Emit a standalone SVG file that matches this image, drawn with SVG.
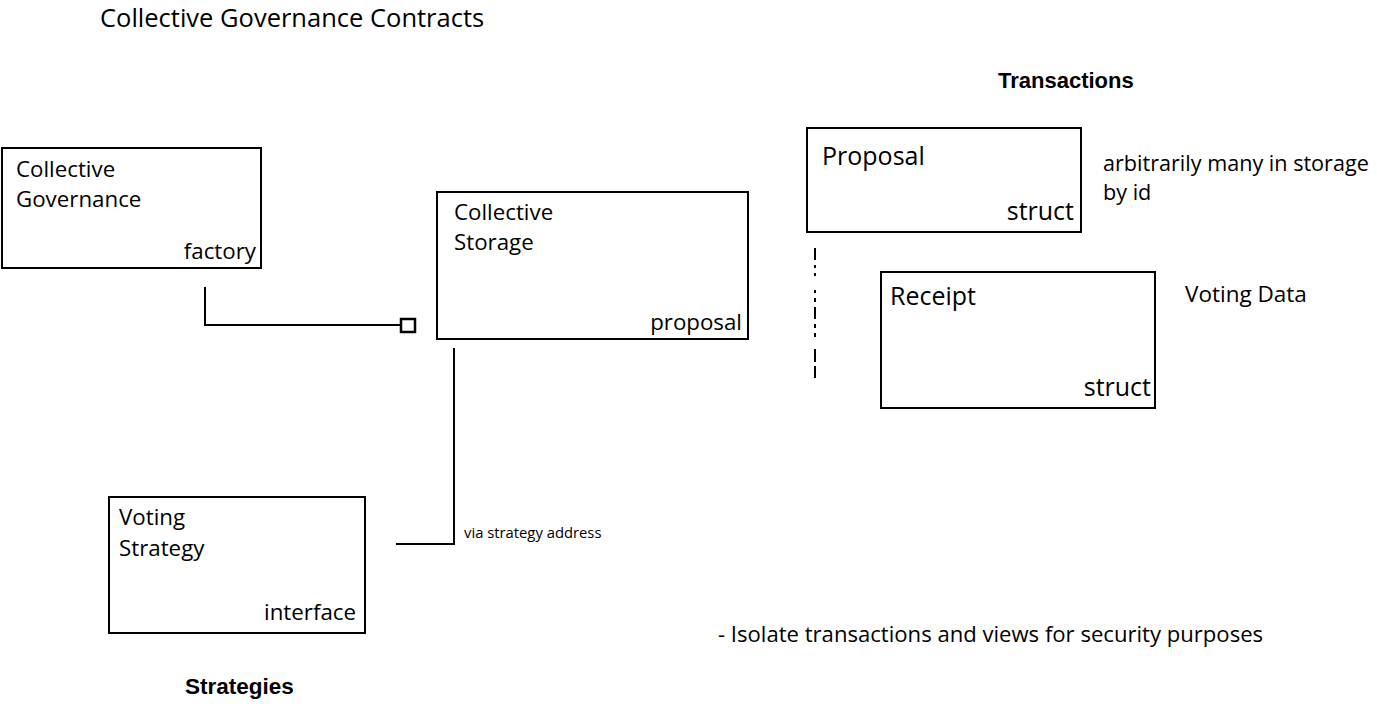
<svg xmlns="http://www.w3.org/2000/svg" width="1377" height="714" viewBox="0 0 1377 714">
<style>
.box{fill:#fff;stroke:#000;stroke-width:2}
.t{font-family:"Open Sans","Liberation Sans",sans-serif;fill:#000}
.n{font-size:22.3px}
.h{font-size:25px}
.s{font-size:25px}
.r{text-anchor:end}
.b{font-family:"Liberation Sans",sans-serif;font-weight:bold;font-size:22px}
.ln{fill:none;stroke:#000;stroke-width:2}
</style>
<rect width="1377" height="714" fill="#fff"/>
<text class="t" x="100" y="27" style="font-size:25.5px">Collective Governance Contracts</text>
<text class="b" x="998" y="88">Transactions</text>
<text class="b" x="185" y="694" style="font-size:22.5px">Strategies</text>
<g id="collective-governance">
<rect class="box" x="2" y="148" width="259" height="120"/>
<text class="t n" x="16" y="177">Collective</text>
<text class="t n" x="16" y="207">Governance</text>
<text class="t n r" x="256" y="259">factory</text>
</g>
<g id="collective-storage">
<rect class="box" x="437" y="192" width="311" height="147"/>
<text class="t n" x="454" y="220">Collective</text>
<text class="t n" x="454" y="250">Storage</text>
<text class="t n r" x="742" y="330">proposal</text>
</g>
<g id="proposal">
<rect class="box" x="807" y="128" width="274" height="104"/>
<text class="t h" x="822" y="165">Proposal</text>
<text class="t s r" x="1074" y="220">struct</text>
</g>
<g id="receipt">
<rect class="box" x="881" y="272" width="274" height="136"/>
<text class="t h" x="890" y="305">Receipt</text>
<text class="t s r" x="1151" y="396">struct</text>
</g>
<g id="voting-strategy">
<rect class="box" x="109" y="497" width="256" height="136"/>
<text class="t n" x="119" y="525">Voting</text>
<text class="t n" x="119" y="556">Strategy</text>
<text class="t n r" x="356" y="620">interface</text>
</g>
<g id="notes">
<text class="t" x="1103" y="171" style="font-size:21.6px">arbitrarily many in storage</text>
<text class="t" x="1103" y="200" style="font-size:21.6px">by id</text>
<text class="t" x="1185" y="302" style="font-size:22.5px">Voting Data</text>
<text class="t" x="718" y="642" style="font-size:22.1px">- Isolate transactions and views for security purposes</text>
</g>
<g id="connectors">
<polyline class="ln" points="205,287 205,325 401,325"/>
<rect x="401" y="319" width="14" height="13" fill="#fff" stroke="#000" stroke-width="2.5"/>
<polyline class="ln" points="396,544 454,544 454,348"/>
<text class="t" x="464" y="538" style="font-size:14.8px">via strategy address</text>
<path class="ln" stroke-width="2.5" d="M815,248V260M815,265V268M815,273V276M815,290V293M815,298V302M815,307V319M815,324V328M815,333V337M815,349V362M815,366V378"/>
</g>
</svg>
